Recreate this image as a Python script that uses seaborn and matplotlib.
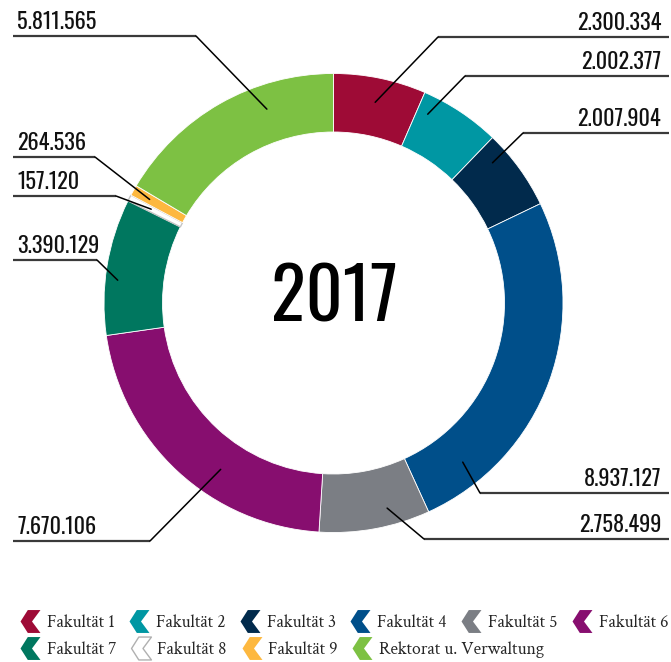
import numpy as np
import matplotlib
matplotlib.use("Agg")
import matplotlib.pyplot as plt
import seaborn as sns
from matplotlib.path import Path
from matplotlib.lines import Line2D

# ---------------- data ----------------
categories = ["Fakultät 1", "Fakultät 2", "Fakultät 3", "Fakultät 4", "Fakultät 5",
              "Fakultät 6", "Fakultät 7", "Fakultät 8", "Fakultät 9",
              "Rektorat u. Verwaltung"]
values = [2300334, 2002377, 2007904, 8937127, 2758499, 7670106, 3390129,
          157120, 264536, 5811565]
value_labels = ["2.300.334", "2.002.377", "2.007.904", "8.937.127", "2.758.499",
                "7.670.106", "3.390.129", "157.120", "264.536", "5.811.565"]
colors = ["#9E0B36", "#0097A3", "#012A4C", "#004F8A", "#7B7E84",
          "#870E6F", "#00775F", "#FFFFFF", "#FDB83F", "#7DC143"]
year = "2017"

# ---------------- layout (pixels, y measured from top) ----------------
W, H = 671, 662
center_px = (333.5, 303)
R_out, ring_w = 229.5, 58.5
label_side = ["right", "right", "right", "right", "right", "left", "left", "left", "left", "left"]
label_line_y = [37, 76, 133, 493, 539, 541, 260, 196, 157, 36]
label_elbow_x = [438, 465, 523, 480, 424, 150, 97, 116, 95, 196]
anchor_t = [0.5, 0.15, 0.23, 0.84, 0.35, 0.39, 0.41, 0.5, 0.5, 0.68]
anchor_r = [205, 211, 212, 205, 212, 201, 217, 205, 211, 205]

sns.set_theme(style="white")
COND = ["Oswald", "DejaVu Sans"]
plt.rcParams["font.family"] = ["Crimson Text", "DejaVu Serif"]

palette = sns.color_palette(colors)

fig = plt.figure(figsize=(W / 100, H / 100), dpi=100)
ax = fig.add_axes([0, 0, 1, 1])
cx, cy = center_px[0], H - center_px[1]

wedges, _ = ax.pie(values, colors=palette, startangle=90, counterclock=False,
                   radius=R_out, center=(cx, cy),
                   wedgeprops=dict(width=ring_w, edgecolor="white", linewidth=0.6))
wedges[7].set_edgecolor("#c4c4c4")
wedges[7].set_linewidth(1.0)

ax.set_xlim(0, W)
ax.set_ylim(0, H)
ax.set_aspect("equal")
ax.axis("off")

# center year
ax.text(335, H - 322, year, ha="center", va="baseline", fontsize=52,
        family=COND, fontweight="medium", color="black")

# labels with leader lines
total = float(sum(values))
cum = np.concatenate([[0], np.cumsum(values)]) / total
for i, lab in enumerate(value_labels):
    frac_pos = cum[i] + anchor_t[i] * (cum[i + 1] - cum[i])
    theta = np.deg2rad(360 * frac_pos)
    ax_x = cx + anchor_r[i] * np.sin(theta)
    ax_y = cy + anchor_r[i] * np.cos(theta)
    ly = H - label_line_y[i]
    ex = label_elbow_x[i]
    if label_side[i] == "right":
        ax.plot([ex, 669], [ly, ly], color="#3a3a3a", lw=1.6, solid_capstyle="butt")
        ax.text(661, ly + 7, lab, ha="right", va="baseline", fontsize=16,
                family=COND, color="#111111")
    else:
        ax.plot([13, ex], [ly, ly], color="#3a3a3a", lw=1.6, solid_capstyle="butt")
        ax.text(17, ly + 7, lab, ha="left", va="baseline", fontsize=16,
                family=COND, color="#111111")
    ax.plot([ex, ax_x], [ly, ax_y], color="black", lw=1.1)

# legend with chevron markers
chev = Path([(-10, 0), (-2.7, 11.5), (10, 11.5), (1.5, 0), (10, -11.5),
             (-2.7, -11.5), (-10, 0)],
            [Path.MOVETO] + [Path.LINETO] * 5 + [Path.CLOSEPOLY])
handles = []
for c, name in zip(palette, categories):
    ec = "#b0b0b0" if name == "Fakultät 8" else c
    handles.append(Line2D([], [], linestyle="none", marker=chev, markersize=16.5,
                          markerfacecolor=c, markeredgecolor=ec,
                          markeredgewidth=1.0 if name == "Fakultät 8" else 0))

leg_kw = dict(frameon=False, fontsize=12.8, handlelength=1.15, handletextpad=0.35,
              columnspacing=0.82, borderpad=0, borderaxespad=0, loc="center left")
leg1 = fig.legend(handles[:6], categories[:6], ncol=6,
                  bbox_to_anchor=(20 / W, 1 - 623 / H), **leg_kw)
leg2 = fig.legend(handles[6:], categories[6:], ncol=4,
                  bbox_to_anchor=(20 / W, 1 - 650 / H), **leg_kw)

fig.savefig("out.png", dpi=100, facecolor="white")
